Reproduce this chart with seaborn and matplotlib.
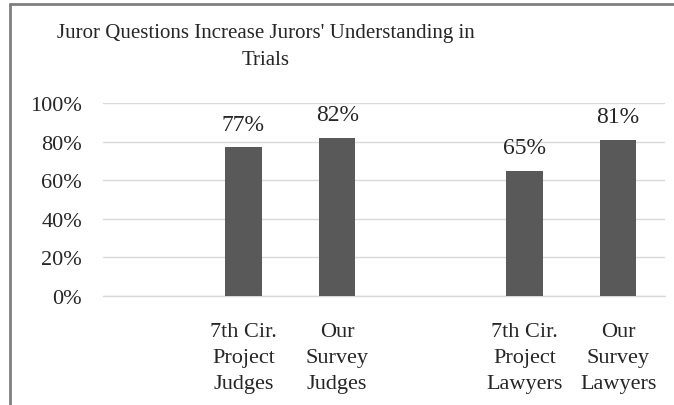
import numpy as np
import pandas as pd
import matplotlib
matplotlib.use("Agg")
import matplotlib.pyplot as plt
from matplotlib.lines import Line2D
import seaborn as sns

# chart data (blank slots are the gaps Excel leaves between the groups)
labels = ["", "7th Cir.\nProject\nJudges", "Our\nSurvey\nJudges",
          " ", "7th Cir.\nProject\nLawyers", "Our\nSurvey\nLawyers"]
values = [np.nan, 0.77, 0.82, np.nan, 0.65, 0.81]
yticks = [0, 0.2, 0.4, 0.6, 0.8, 1.0]
title = "Juror Questions Increase Jurors' Understanding in\nTrials"

data = pd.DataFrame({"label": labels, "value": values})

sns.set_style("white")
plt.rcParams["font.family"] = ["Liberation Serif", "DejaVu Serif"]

fig = plt.figure(figsize=(6.74, 4.06), dpi=100)
ax = fig.add_axes([103/674, 109/406, 562/674, 193/406])

sns.barplot(data=data, x="label", y="value", order=labels, color="#595959",
            saturation=1, width=0.39, linewidth=0, errorbar=None, ax=ax,
            zorder=3)

ax.set_ylim(0, 1)
ax.set_xlim(-0.5, len(labels) - 0.5)
ax.set_yticks(yticks)
ax.set_yticklabels([f"{t:.0%}" for t in yticks])
ax.set_xlabel("")
ax.set_ylabel("")
ax.tick_params(axis="both", length=0, labelsize=16, colors="#262626")
ax.tick_params(axis="y", pad=15)
ax.tick_params(axis="x", pad=19)
for lab in ax.get_xticklabels():
    lab.set_linespacing(1.47)
ax.yaxis.grid(True, color="#d9d9d9", linewidth=1)
ax.axhline(0, color="#d9d9d9", linewidth=1, clip_on=False, zorder=1)
ax.set_axisbelow(True)
sns.despine(ax=ax, left=True, bottom=True)

# value labels above the bars
for p in ax.patches:
    h = p.get_height()
    if np.isnan(h) or h == 0:
        continue
    ax.annotate(f"{h:.0%}", (p.get_x() + p.get_width() / 2, h),
                xytext=(0, 9), textcoords="offset points",
                ha="center", va="bottom", fontsize=17, color="#262626")

fig.text(266/674, 1 - 47/406, title, ha="center", va="center",
         fontsize=15, color="#262626", linespacing=1.6)

# chart border (left and top edges visible)
fig.add_artist(Line2D([10/674, 10/674], [0, 1 - 5/406], color="#7f7f7f", lw=2))
fig.add_artist(Line2D([10/674, 1], [1 - 5/406, 1 - 5/406], color="#7f7f7f", lw=2))

fig.savefig("out.png", dpi=100)
